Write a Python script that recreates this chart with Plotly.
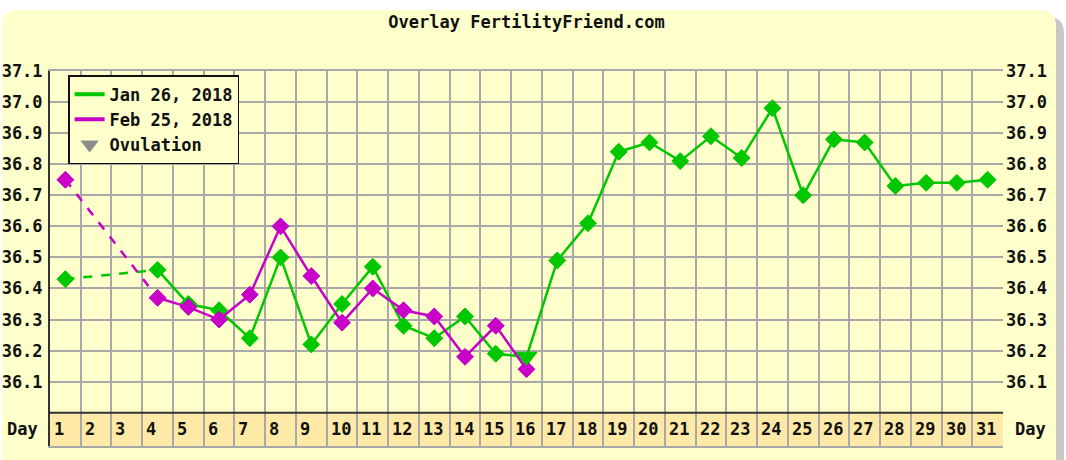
import plotly.graph_objects as go

# cycle days and the two overlaid temperature charts (None = no reading)
days = list(range(1, 32))
jan_26 = [36.43, None, None, 36.46, 36.35, 36.33, 36.24, 36.50, 36.22, 36.35,
          36.47, 36.28, 36.24, 36.31, 36.19, 36.18, 36.49, 36.61, 36.84, 36.87,
          36.81, 36.89, 36.82, 36.98, 36.70, 36.88, 36.87, 36.73, 36.74, 36.74,
          36.75]
feb_25 = [36.75, None, None, 36.37, 36.34, 36.30, 36.38, 36.60, 36.44, 36.29,
          36.40, 36.33, 36.31, 36.18, 36.28, 36.14]
jan_ovulation_day = 16
temp_ticks = [36.1, 36.2, 36.3, 36.4, 36.5, 36.6, 36.7, 36.8, 36.9, 37.0, 37.1]
temp_labels = ['%.1f' % t for t in temp_ticks]
series = [('Jan 26, 2018', jan_26, '#00C800', jan_ovulation_day),
          ('Feb 25, 2018', feb_25, '#C800C8', None)]

FONT = 'DejaVu Sans Mono'
PANEL = '#FFFFCC'
DAYROW = '#FFE9A6'
GRID = '#A8A8A8'
Y_BASE = 36.0
Y_MIN = 35.893
Y_MAX = 37.1

# plot area in pixels (used only for the background panel decoration)
L, R, T, B = 50, 63, 71, 14
W, H = 1066, 460
PW, PH = W - L - R, H - T - B


def px(x, y):
    return '%.4f,%.4f' % ((x - L) / PW, (H - B - y) / PH)


def rounded_panel(x0, y0, x1, y1, r):
    return ('M ' + px(x0, y0 + r) + ' Q ' + px(x0, y0) + ' ' + px(x0 + r, y0) +
            ' L ' + px(x1 - r, y0) + ' Q ' + px(x1, y0) + ' ' + px(x1, y0 + r) +
            ' L ' + px(x1, y1) + ' L ' + px(x0, y1) + ' Z')


def gap_links(values):
    # pairs of neighbouring readings that have missing days between them
    pts = [(d, v) for d, v in zip(days, values) if v is not None]
    return [(a, b) for a, b in zip(pts, pts[1:]) if b[0] - a[0] > 1]


fig = go.Figure()

ovulation_marks = []
for name, vals, color, ov_day in series:
    xs = days[:len(vals)]
    for a, b in gap_links(vals):
        fig.add_trace(go.Scatter(x=[a[0], b[0]], y=[a[1], b[1]], mode='lines',
                                 line=dict(color=color, width=2.5, dash='dash'),
                                 showlegend=False, hoverinfo='skip'))
    symbols = ['triangle-down' if d == ov_day else 'diamond' for d in xs]
    sizes = [18 if d == ov_day else 13 for d in xs]
    fig.add_trace(go.Scatter(x=xs, y=vals, mode='lines+markers', connectgaps=False,
                             line=dict(color=color, width=2.5),
                             marker=dict(symbol=symbols, size=sizes, color=color,
                                         opacity=1, line=dict(width=1, color=color)),
                             showlegend=False, name=name))
    if ov_day is not None:
        ovulation_marks.append((ov_day, vals[ov_day - 1], color))
    # legend entry
    fig.add_trace(go.Scatter(x=[None], y=[None], mode='lines', name=name,
                             line=dict(color=color, width=4)))

# ovulation triangles drawn on top of both series
for d, v, color in ovulation_marks:
    fig.add_trace(go.Scatter(x=[d], y=[v], mode='markers', showlegend=False,
                             marker=dict(symbol='triangle-down', size=18, color=color)))

fig.add_trace(go.Scatter(x=[None], y=[None], mode='markers', name='Ovulation',
                         marker=dict(symbol='triangle-down', size=16, color='#8C8C8C')))

# mirror axis on the right for the second set of tick labels
fig.add_trace(go.Scatter(x=[None], y=[None], yaxis='y2', showlegend=False))

shapes = [
    dict(type='path', xref='paper', yref='paper', layer='below',
         path=rounded_panel(9, 17, 1064, 480, 16), fillcolor='rgba(0,0,0,0.22)',
         line=dict(width=0)),
    dict(type='path', xref='paper', yref='paper', layer='below',
         path=rounded_panel(2, 10, 1056, 480, 16), fillcolor=PANEL,
         line=dict(width=0)),
    dict(type='rect', xref='paper', yref='y', x0=0, x1=1, y0=Y_MIN, y1=Y_BASE,
         layer='below', fillcolor=DAYROW, line=dict(width=0)),
    dict(type='line', xref='paper', yref='y', x0=0, x1=1, y0=Y_BASE, y1=Y_BASE,
         line=dict(color='#333333', width=2)),
]

day_mid = (Y_MIN + Y_BASE) / 2
bold = dict(family=FONT, size=17, color='#111111', weight='bold')
annotations = [dict(x=d - 0.5, y=day_mid, xref='x', yref='y', text=str(d),
                    showarrow=False, xanchor='left', xshift=2, font=bold)
               for d in days]
annotations += [dict(x=-0.029, y=day_mid, xref='paper', yref='y', text='Day',
                     showarrow=False, xanchor='center', font=bold),
                dict(x=1.029, y=day_mid, xref='paper', yref='y', text='Day',
                     showarrow=False, xanchor='center', font=bold)]

yaxis_common = dict(range=[Y_MIN, Y_MAX], tickmode='array', tickvals=temp_ticks,
                    ticktext=temp_labels, ticks='', tickfont=bold, fixedrange=True,
                    automargin=False, ticklabelstandoff=2)

fig.update_layout(
    width=W, height=H,
    margin=dict(l=L, r=R, t=T, b=B, autoexpand=False),
    paper_bgcolor='white',
    plot_bgcolor=PANEL,
    title=dict(text='Overlay FertilityFriend.com', x=0.5, xref='paper',
               y=1 - 22 / H, yanchor='middle', font=bold),
    xaxis=dict(range=[0.5, 31.5], tickmode='linear', tick0=0.5, dtick=1,
               showticklabels=False, ticks='', showgrid=True, gridcolor=GRID,
               gridwidth=2, zeroline=False, showline=True, mirror=True,
               linecolor=GRID, linewidth=2, automargin=False, fixedrange=True),
    yaxis=dict(showgrid=True, gridcolor=GRID, gridwidth=2, zeroline=False,
               showline=True, linecolor='#333333', linewidth=2, **yaxis_common),
    yaxis2=dict(overlaying='y', side='right', showgrid=False, zeroline=False,
                showline=False, **yaxis_common),
    legend=dict(x=0.019, y=0.989, xanchor='left', yanchor='top',
                bgcolor=PANEL, bordercolor='#111111', borderwidth=1.5,
                font=bold, itemwidth=30, tracegroupgap=0),
    shapes=shapes,
    annotations=annotations,
    showlegend=True,
    hovermode=False,
)

# the page's default body margin would shift the chart by 8px
fig.write_html('out.html', config={'displayModeBar': False},
               post_script="document.body.style.margin='0';")
